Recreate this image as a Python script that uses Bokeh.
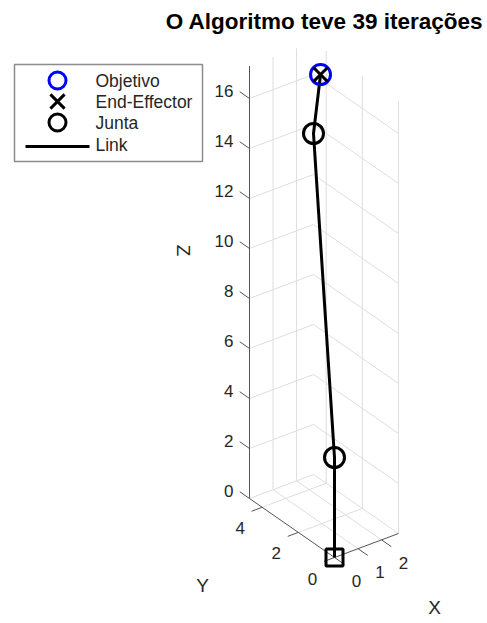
import numpy as np
from bokeh.plotting import figure
from bokeh.models import Range1d
from bokeh.core.properties import value
from bokeh.embed import file_html
from bokeh.resources import INLINE

# ---------------- data ----------------
title_text = "O Algoritmo teve 39 iterações"
axis_names = ["X", "Y", "Z"]
x_lim = [0.0, 2.72]
y_lim = [0.0, 4.7]
z_lim = [0.0, 17.3]
x_ticks = [0, 1, 2]
y_ticks = [0, 2, 4]
z_ticks = [0, 2, 4, 6, 8, 10, 12, 14, 16]

# robot chain: base -> joint 1 -> joint 2 -> end-effector
link_x = [0.0, 0.0, 2.72, 1.62]
link_y = [0.0, 0.0, 4.70, 2.88]
link_z = [0.0, 4.0, 13.64, 17.3]
joint_x = [0.0, 2.72]
joint_y = [0.0, 4.70]
joint_z = [4.0, 13.64]
base_x = [0.0]
base_y = [0.0]
base_z = [0.0]
goal_x = [1.62]
goal_y = [2.88]
goal_z = [17.3]
ee_x = [1.62]
ee_y = [2.88]
ee_z = [17.3]
legend_labels = ["Objetivo", "End-Effector", "Junta", "Link"]

# ---------------- projection (view) ----------------
ORIGIN = np.array([334.0, 557.0])
EX = np.array([64.0, -24.0]) / (x_lim[1] - x_lim[0])
EY = np.array([-85.0, -59.0]) / (y_lim[1] - y_lim[0])
EZ = np.array([0.0, -25.0])


def proj(X, Y, Z):
    X = np.asarray(X, dtype=float)
    Y = np.asarray(Y, dtype=float)
    Z = np.asarray(Z, dtype=float)
    sx = ORIGIN[0] + X * EX[0] + Y * EY[0] + Z * EZ[0]
    sy = ORIGIN[1] + X * EX[1] + Y * EY[1] + Z * EZ[1]
    return sx, sy


W, H = 487, 623
p = figure(width=W, height=H, x_range=Range1d(0, W), y_range=Range1d(H, 0),
           output_backend="svg", toolbar_location=None, min_border=0)
p.axis.visible = False
p.grid.visible = False
p.outline_line_color = None
p.background_fill_color = "white"
p.border_fill_color = "white"

FONT = value("Liberation Sans")
TXT = "#262626"
GRID = "#dedede"
AX = "#555555"

x0, x1 = x_lim
y0, y1 = y_lim
z0, z1 = z_lim

# ---------------- grid ----------------
gxs, gys = [], []
for z in z_ticks:
    sx, sy = proj([x0, x1, x1], [y1, y1, y0], [z, z, z])
    gxs.append(list(sx)); gys.append(list(sy))
for x in x_ticks:
    if x == x0:
        continue
    sx, sy = proj([x, x], [y1, y1], [z0, z1])
    gxs.append(list(sx)); gys.append(list(sy))
    sx, sy = proj([x, x], [y0, y1], [z0, z0])
    gxs.append(list(sx)); gys.append(list(sy))
for y in y_ticks:
    sx, sy = proj([x1, x1], [y, y], [z0, z1])
    gxs.append(list(sx)); gys.append(list(sy))
    if y != y0:
        sx, sy = proj([x0, x1], [y, y], [z0, z0])
        gxs.append(list(sx)); gys.append(list(sy))
p.multi_line(gxs, gys, line_color=GRID, line_width=1)

# ---------------- axes ----------------
axs, ays = [], []
sx, sy = proj([x0, x1], [y0, y0], [z0, z0]); axs.append(list(sx)); ays.append(list(sy))
sx, sy = proj([x0, x0], [y0, y1], [z0, z0]); axs.append(list(sx)); ays.append(list(sy))
sx, sy = proj([x0, x0], [y1, y1], [z0, z1]); axs.append(list(sx)); ays.append(list(sy))
TL = 0.45
for x in x_ticks:
    sx, sy = proj([x, x], [y0, y0 - TL * 1.2], [z0, z0]); axs.append(list(sx)); ays.append(list(sy))
for y in y_ticks:
    sx, sy = proj([x0, x0 - TL], [y, y], [z0, z0]); axs.append(list(sx)); ays.append(list(sy))
for z in z_ticks:
    sx, sy = proj([x0, x0], [y1, y1 + TL * 1.2], [z, z]); axs.append(list(sx)); ays.append(list(sy))
p.multi_line(axs, ays, line_color=AX, line_width=1)

# tick labels
sx, sy = proj(x_ticks, [y0] * len(x_ticks), [z0] * len(x_ticks))
p.text(sx + 22, sy + 23, text=[str(t) for t in x_ticks], text_font=FONT,
       text_font_size="17px", text_color=TXT, text_align="center", text_baseline="middle")
sx, sy = proj([x0] * len(y_ticks), y_ticks, [z0] * len(y_ticks))
p.text(sx - 22, sy + 21, text=[str(t) for t in y_ticks], text_font=FONT,
       text_font_size="17px", text_color=TXT, text_align="center", text_baseline="middle")
sx, sy = proj([x0] * len(z_ticks), [y1] * len(z_ticks), z_ticks)
p.text(sx - 16, sy - 8, text=[str(t) for t in z_ticks], text_font=FONT,
       text_font_size="17px", text_color=TXT, text_align="right", text_baseline="middle")

# axis labels
p.text([434], [607], text=[axis_names[0]], text_font=FONT, text_font_size="19px",
       text_color=TXT, text_align="center", text_baseline="middle")
p.text([202], [585], text=[axis_names[1]], text_font=FONT, text_font_size="19px",
       text_color=TXT, text_align="center", text_baseline="middle")
p.text([183], [250], text=[axis_names[2]], text_font=FONT, text_font_size="19px",
       text_color=TXT, text_align="center", text_baseline="middle", angle=-np.pi / 2)

# ---------------- robot ----------------
sx, sy = proj(link_x, link_y, link_z)
p.line(sx, sy, line_color="black", line_width=3)
sx, sy = proj(base_x, base_y, base_z)
p.scatter(sx, sy, marker="square", size=17, fill_color=None, line_color="black", line_width=3)
sx, sy = proj(joint_x, joint_y, joint_z)
p.scatter(sx, sy, marker="circle", size=20, fill_color=None, line_color="black", line_width=3)
sx, sy = proj(goal_x, goal_y, goal_z)
p.scatter(sx, sy, marker="circle", size=20, fill_color=None, line_color="#0000ff", line_width=3)
sx, sy = proj(ee_x, ee_y, ee_z)
p.scatter(sx, sy, marker="x", size=20, line_color="black", line_width=3)

# ---------------- title ----------------
p.text([324], [21], text=[title_text], text_font=FONT, text_font_size="22.5px",
       text_font_style="bold", text_color="black", text_align="center", text_baseline="middle")

# ---------------- legend ----------------
p.quad(left=[14], right=[202], top=[64], bottom=[161], fill_color="white",
       line_color="#8c8c8c", line_width=1.5)
ly = [80, 101, 122, 144]
p.scatter([57], [ly[0]], marker="circle", size=17, fill_color=None, line_color="#0000ff", line_width=3)
p.scatter([57], [ly[1]], marker="x", size=20, line_color="black", line_width=3)
p.scatter([57], [ly[2]], marker="circle", size=17, fill_color=None, line_color="black", line_width=3)
p.line([25, 89], [ly[3] + 2, ly[3] + 2], line_color="black", line_width=3)
p.text([95] * 4, ly, text=legend_labels, text_font=FONT, text_font_size="17.5px",
       text_color=TXT, text_align="left", text_baseline="middle")

open("out.html", "w").write(file_html(p, INLINE))
